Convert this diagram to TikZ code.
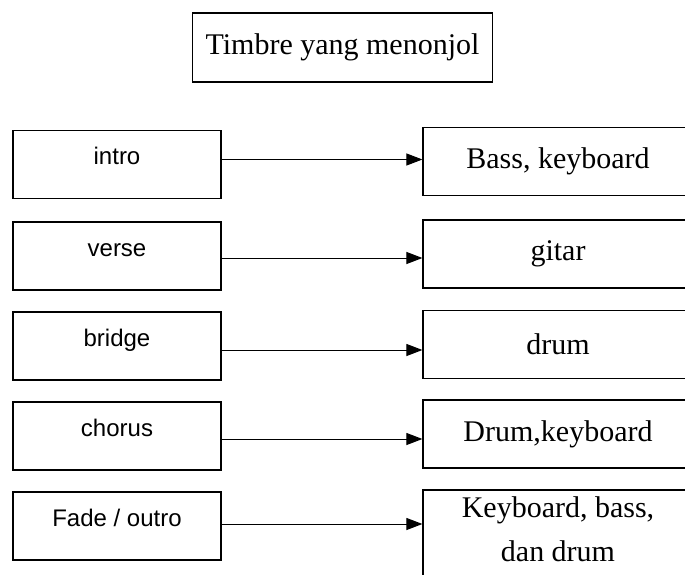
\documentclass[tikz,border=0pt]{standalone}
\usepackage{fontspec}
\setmainfont{Liberation Serif}
\newfontfamily\arialfont{Liberation Sans}
\usetikzlibrary{arrows.meta}
\begin{document}
\begin{tikzpicture}[x=1pt,y=-1pt,
  lbox/.style={draw,line width=1.2pt,minimum width=208pt,minimum height=68pt,inner sep=0pt,
    font=\arialfont\fontsize{24}{28}\selectfont,text height=9pt,text depth=9pt},
  rbox/.style={draw,line width=1.2pt,minimum width=270pt,minimum height=68pt,inner sep=0pt,
    font=\fontsize{30}{44}\selectfont,align=center},
  rtext/.style={inner sep=0pt,font=\fontsize{30}{44}\selectfont,align=center},
  conn/.style={line width=1pt,-{Triangle[length=16pt,width=12pt]}},
  tbox/.style={draw,line width=1.2pt,minimum width=300pt,minimum height=69pt,inner sep=0pt,
    font=\fontsize{30}{36}\selectfont}]
\useasboundingbox (0,0) rectangle (685,575);
\begin{scope}
\clip (0,0) rectangle (685,575);
\node[tbox] (title) at (342.5,47.5) {Timbre yang menonjol};
\node[lbox] (intro) at (117,164.5) {intro};
\node[lbox] (verse) at (117,256) {verse};
\node[lbox] (bridge) at (117,346) {bridge};
\node[lbox] (chorus) at (117,436) {chorus};
\node[lbox] (fade) at (117,526) {Fade / outro};
\node[rbox] (r1) at (558,161.5) {Bass, keyboard};
\node[rbox] (r2) at (558,254) {gitar};
\node[rbox] (r3) at (558,344.5) {drum};
\node[rbox] (r4) at (558,434) {Drum,keyboard};
\node[rbox,minimum height=110pt] (r5) at (558,545) {};
\node[rtext,anchor=north] (r5t) at ([yshift=-7pt]r5.north) {Keyboard, bass,\\dan drum};
\draw[conn] ([yshift=5pt]intro.east) -- ([yshift=5pt]intro.east -| r1.west);
\draw[conn] ([yshift=-2pt]verse.east) -- ([yshift=-2pt]verse.east -| r2.west);
\draw[conn] ([yshift=-4pt]bridge.east) -- ([yshift=-4pt]bridge.east -| r3.west);
\draw[conn] ([yshift=-3pt]chorus.east) -- ([yshift=-3pt]chorus.east -| r4.west);
\draw[conn] ([yshift=2pt]fade.east) -- ([yshift=2pt]fade.east -| r5.west);
\end{scope}
\end{tikzpicture}
\end{document}
